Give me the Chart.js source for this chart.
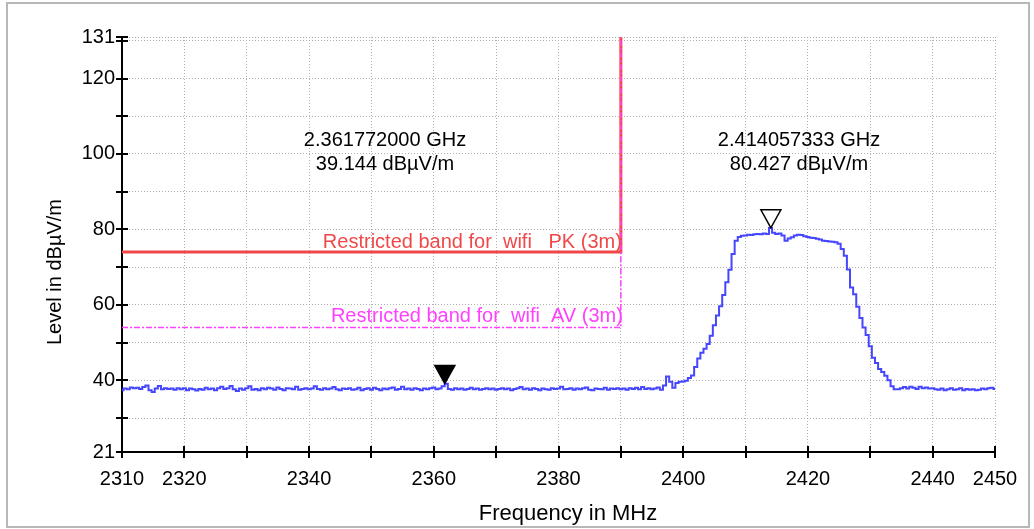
<!DOCTYPE html>
<html lang="en">
<head>
  <meta charset="UTF-8">
  <title>Restricted band scan 2310 - 2450 MHz</title>
  <script src="https://cdn.jsdelivr.net/npm/chart.js"></script>
  <style>
    body { margin: 0; background: #fff; }
    canvas { display: block; }
  </style>
</head>
<body>
  <canvas id="scan" width="1034" height="529"></canvas>

  <script>
    // sweep runs 2310 -> 2450 MHz, one reading every 0.5 MHz
    const sweepStart = 2310;
    const sweepStep = 0.5;
    const level = [
      37.4, 37.8, 37.6, 38.1, 37.9, 38.0, 37.7, 38.2, 38.6, 37.4, 36.9, 37.8, 38.5, 37.6, 37.9, 37.7, 37.8, 37.5, 37.9, 37.6,
      37.9, 37.4, 37.8, 37.6, 37.3, 37.7, 37.5, 38.0, 37.6, 37.8, 37.4, 37.9, 38.3, 37.7, 37.9, 38.5, 37.6, 37.2, 37.8, 37.5,
      37.9, 38.4, 37.5, 37.7, 37.4, 37.9, 37.6, 38.0, 37.8, 37.5, 38.1, 37.7, 37.4, 37.9, 37.8, 37.6, 38.3, 37.5, 37.7, 37.9,
      37.6, 37.8, 38.4, 37.7, 37.5, 37.9, 37.6, 37.8, 38.2, 37.6, 37.4, 37.8, 37.7, 37.9, 37.5, 37.6, 38.0, 37.4, 37.7, 37.9,
      37.5, 38.0, 37.7, 37.4, 37.8, 37.6, 37.9, 38.1, 37.5, 37.7, 38.3, 37.6, 37.8, 37.5, 37.9, 37.7, 37.4, 37.8, 37.6, 37.9,
      38.1, 37.6, 37.8, 38.4, 39.1, 37.7, 37.5, 37.9, 37.6, 37.8, 37.5, 37.7, 38.0, 37.6, 37.8, 37.5, 37.7, 37.9, 37.6, 37.8,
      37.5, 37.7, 37.9, 37.6, 37.8, 37.4, 37.7, 37.9, 38.2, 37.6, 37.8, 37.5, 37.9, 37.7, 37.4, 37.8, 37.6, 37.5, 37.9, 37.7,
      37.8, 38.3, 37.6, 37.7, 37.9, 37.5, 37.8, 37.6, 37.9, 38.1, 37.5, 37.4, 37.8, 37.7, 37.6, 38.0, 37.5, 37.8, 37.7, 37.9,
      37.6, 37.8, 37.5, 37.9, 37.7, 38.0, 37.6, 38.2, 37.7, 37.9, 37.6, 37.8, 38.1, 37.5, 38.6, 41.0, 39.6, 38.0, 39.3, 39.6,
      39.7, 39.9, 40.6, 41.3, 43.5, 45.8, 47.3, 48.4, 49.6, 51.8, 54.6, 57.2, 59.6, 62.6, 66.0, 69.3, 73.5, 77.0, 78.0, 78.3,
      78.4, 78.6, 78.5, 78.7, 78.8, 78.7, 78.9, 78.8, 80.4, 79.1, 78.8, 78.9, 78.4, 77.0, 77.6, 77.9, 78.4, 78.6, 78.5, 78.2,
      78.0, 77.8, 77.7, 77.5, 77.3, 77.0, 76.9, 76.8, 76.7, 76.6, 76.2, 74.8, 73.0, 69.4, 64.6, 62.8, 59.5, 56.5, 54.0, 52.0,
      49.0, 46.0, 44.6, 43.0, 42.2, 41.2, 40.0, 38.4, 37.6, 37.6, 37.9, 38.2, 37.8, 38.3, 38.0, 37.7, 38.3, 37.9, 38.1, 37.8,
      37.9, 37.6, 37.5, 37.8, 37.4, 37.6, 37.9, 37.5, 37.6, 37.9, 37.4, 37.7, 37.5, 37.6, 37.4, 37.5, 37.8, 37.6, 37.9, 38.0,
      37.7
    ];

    // limit lines (restricted band edge at 2390 MHz)
    const pkFreq = [2310, 2390, 2390];
    const pkLevel = [74, 74, 131];
    const avFreq = [2310, 2390, 2390];
    const avLevel = [54, 54, 131];

    // markers
    const markerFreq = [2361.772, 2414.057];
    const markerLevel = [39.144, 80.427];
    const markerFilled = [true, false];
    const markerText = [
      ['2.361772000 GHz', '39.144 dBµV/m'],
      ['2.414057333 GHz', '80.427 dBµV/m']
    ];

    const xTicks = [2310, 2320, 2330, 2340, 2350, 2360, 2370, 2380, 2390, 2400, 2410, 2420, 2430, 2440, 2450];
    const xLabels = [2310, 2320, 2340, 2360, 2380, 2400, 2420, 2440, 2450];
    const yTicks = [21, 30, 40, 50, 60, 70, 80, 90, 100, 110, 120, 130, 131];
    const yLabels = [21, 40, 60, 80, 100, 120, 131];

    const FONT = '"Liberation Sans", Arial, sans-serif';

    function pts(xs, ys) {
      return xs.map((x, i) => ({ x: x, y: ys[i] }));
    }
    const trace = level.map((v, i) => ({ x: sweepStart + i * sweepStep, y: v }));

    // extra drawing: frame, crossing ticks, titles, markers, limit captions
    const decor = {
      id: 'decor',
      beforeDraw(chart) {
        const c = chart.ctx;
        c.save();
        c.strokeStyle = '#b8b8b8';
        c.lineWidth = 2;
        c.strokeRect(7, 3, 1022, 524);
        c.restore();
      },
      beforeDatasetsDraw(chart) {
        // PK caption goes under the red limit so its ")" hides behind the edge line
        const c = chart.ctx;
        const x = chart.scales.x, y = chart.scales.y;
        c.save();
        c.font = '20px ' + FONT;
        c.textAlign = 'right';
        c.textBaseline = 'alphabetic';
        c.fillStyle = '#f04848';
        c.fillText('Restricted band for  wifi   PK (3m)', x.getPixelForValue(2390) + 1, y.getPixelForValue(74) - 4);
        c.restore();
      },
      afterDatasetsDraw(chart) {
        const c = chart.ctx;
        const x = chart.scales.x, y = chart.scales.y;
        c.save();
        c.font = '20px ' + FONT;
        c.textAlign = 'right';
        c.textBaseline = 'alphabetic';
        c.fillStyle = '#ff40ff';
        c.fillText('Restricted band for  wifi  AV (3m)', x.getPixelForValue(2390) + 2, y.getPixelForValue(54) - 6);
        c.restore();
      },
      afterDraw(chart) {
        const c = chart.ctx;
        const x = chart.scales.x, y = chart.scales.y;
        const area = chart.chartArea;
        c.save();

        // ticks crossing the axes
        c.strokeStyle = '#000';
        c.lineWidth = 2;
        c.beginPath();
        yTicks.forEach(v => {
          const py = Math.round(y.getPixelForValue(v));
          c.moveTo(area.left - 6, py);
          c.lineTo(area.left + 6, py);
        });
        xTicks.forEach(v => {
          const px = Math.round(x.getPixelForValue(v));
          c.moveTo(px, area.bottom - 6);
          c.lineTo(px, area.bottom + 6);
        });
        c.stroke();

        // axis titles
        c.fillStyle = '#000';
        c.textAlign = 'center';
        c.textBaseline = 'middle';
        c.font = '22px ' + FONT;
        c.fillText('Frequency in MHz', 568, 514);
        c.save();
        c.translate(55, 272);
        c.rotate(-Math.PI / 2);
        c.font = '20px ' + FONT;
        c.fillText('Level in dBµV/m', 0, 0);
        c.restore();

        // marker triangles, tip on the reading
        markerFreq.forEach((f, i) => {
          const px = x.getPixelForValue(f);
          const py = y.getPixelForValue(markerLevel[i]);
          c.beginPath();
          c.moveTo(px, py);
          c.lineTo(px - 10, py - 18);
          c.lineTo(px + 10, py - 18);
          c.closePath();
          c.lineWidth = 1.5;
          c.strokeStyle = '#000';
          c.fillStyle = markerFilled[i] ? '#000' : '#fff';
          c.fill();
          c.stroke();
        });

        // marker readouts
        const readAt = [385, 799];
        c.font = '20px ' + FONT;
        c.fillStyle = '#000';
        c.textAlign = 'center';
        c.textBaseline = 'middle';
        markerText.forEach((lines, i) => {
          c.fillText(lines[0], readAt[i], 140);
          c.fillText(lines[1], readAt[i], 164);
        });
        c.restore();
      }
    };

    new Chart(document.getElementById('scan'), {
      type: 'line',
      data: {
        datasets: [
          {
            label: 'Level',
            data: trace,
            borderColor: '#4646ff',
            borderWidth: 2,
            pointRadius: 0,
            stepped: 'middle',
            order: 0
          },
          {
            label: 'AV limit',
            data: pts(avFreq, avLevel),
            borderColor: '#ff40ff',
            borderWidth: 1.5,
            borderDash: [6, 2, 2, 2],
            pointRadius: 0,
            order: 1
          },
          {
            label: 'PK limit',
            data: pts(pkFreq, pkLevel),
            borderColor: '#f04848',
            borderWidth: 3,
            pointRadius: 0,
            order: 2
          }
        ]
      },
      options: {
        responsive: false,
        animation: false,
        layout: { padding: { left: 0, right: 39, top: 37, bottom: 0 } },
        plugins: {
          legend: { display: false },
          tooltip: { enabled: false }
        },
        scales: {
          x: {
            type: 'linear',
            min: 2310,
            max: 2450,
            afterBuildTicks: s => { s.ticks = xTicks.map(v => ({ value: v })); },
            afterFit: s => { s.height = 77; },
            grid: {
              drawTicks: false,
              color: ctx => ctx.tick && ctx.tick.value === 2310 ? 'rgba(0,0,0,0)' : '#b0b0b0',
              lineWidth: 1
            },
            border: { display: true, color: '#000', width: 2, dash: [1, 2] },
            ticks: {
              autoSkip: false,
              maxRotation: 0,
              padding: 15,
              color: '#000',
              font: { family: FONT, size: 20 },
              callback: v => xLabels.includes(v) ? String(v) : ''
            }
          },
          y: {
            min: 21,
            max: 131,
            afterBuildTicks: s => { s.ticks = yTicks.map(v => ({ value: v })); },
            afterFit: s => { s.width = 122; },
            grid: {
              drawTicks: false,
              color: ctx => ctx.tick && ctx.tick.value === 21 ? 'rgba(0,0,0,0)' : '#b0b0b0',
              lineWidth: 1
            },
            border: { display: true, color: '#000', width: 2, dash: [1, 2] },
            ticks: {
              autoSkip: false,
              padding: 7,
              color: '#000',
              font: { family: FONT, size: 20 },
              callback: v => yLabels.includes(v) ? String(v) : ''
            }
          }
        }
      },
      plugins: [decor]
    });
  </script>
</body>
</html>
